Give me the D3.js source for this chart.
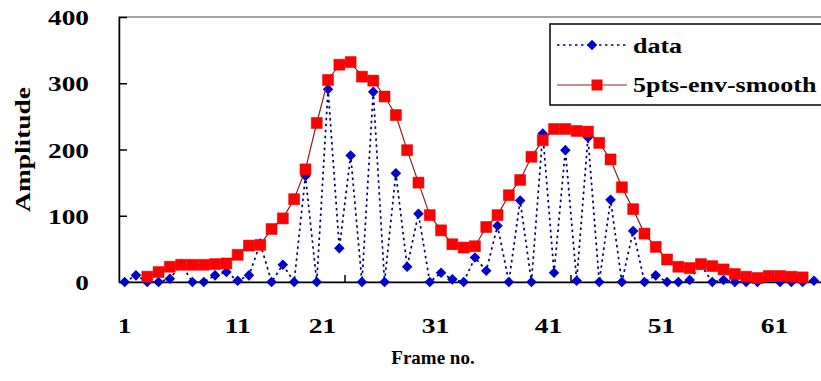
<!DOCTYPE html>
<html>
<head>
<meta charset="utf-8">
<script src="https://cdnjs.cloudflare.com/ajax/libs/d3/7.8.5/d3.min.js"></script>
<style>
  body { margin: 0; background: #fff; }
  text { font-family: "Liberation Serif", "Times New Roman", serif; font-weight: bold; fill: #000; }
</style>
</head>
<body>
<svg id="chart" width="821" height="381"></svg>
<script>
// frame numbers (categories)
var frames = d3.range(1, 64);

// raw amplitude per frame
var dataValues = [
  0, 10, 0, 0, 5, 27, 0, 0, 10, 15,
  2, 10, 58, 0, 26, 0, 160, 0, 291, 51,
  191, 0, 287, 0, 164, 23, 103, 0, 14, 4,
  0, 37, 17, 85, 0, 123, 0, 224, 14, 199,
  2, 218, 0, 124, 0, 77, 0, 10, 0, 0,
  3, 26, 0, 3, 0, 0, 0, 8, 0, 0,
  0, 2, 0
];

// 5 point envelope smooth (frames 3..61)
var smoothValues = [
  null, null, 8, 15, 23, 26, 26, 26, 27, 28,
  41, 55, 56, 80, 96, 125, 170, 240, 305, 328,
  332, 310, 304, 280, 252, 199, 150, 101, 78, 57,
  52, 54, 83, 101, 131, 154, 189, 214, 231, 231,
  228, 227, 210, 185, 143, 110, 73, 53, 34, 23,
  21, 27, 24, 19, 12, 8, 6, 9, 9, 8,
  7, null, null
];

var yTicks = [0, 100, 200, 300, 400];
var xTickLabels = [1, 11, 21, 31, 41, 51, 61];
var seriesNames = ["data", "5pts-env-smooth"];

var svg = d3.select("#chart");
svg.append("rect").attr("width", 821).attr("height", 381).attr("fill", "#fff");

var plotLeft = 119, plotTop = 17, plotBottom = 282, catW = 11.3;

var x = d3.scaleBand().domain(frames).range([plotLeft, plotLeft + frames.length * catW]).padding(0);
var cx = function (f) { return x(f) + x.bandwidth() / 2; };
var y = d3.scaleLinear().domain([0, 400]).range([plotBottom, plotTop]);

// widen text the way the original renderer did
function stretch(sel, k) {
  sel.each(function () {
    var w = this.getComputedTextLength();
    d3.select(this).attr("textLength", w * k).attr("lengthAdjust", "spacingAndGlyphs");
  });
}

// plot area border
svg.append("rect")
  .attr("x", plotLeft).attr("y", plotTop)
  .attr("width", frames.length * catW).attr("height", plotBottom - plotTop)
  .attr("fill", "none").attr("stroke", "#888").attr("stroke-width", 1.5);

/* y axis */
var yAxis = svg.append("g")
  .attr("transform", "translate(" + plotLeft + ",0)")
  .call(d3.axisLeft(y).tickValues(yTicks).tickSize(-8).tickPadding(30).tickSizeOuter(0));
yAxis.select(".domain").attr("stroke", "#000").attr("stroke-width", 1.5);
yAxis.selectAll(".tick line").attr("stroke", "#000").attr("stroke-width", 1.5);
yAxis.selectAll(".tick text")
  .attr("font-size", 21).attr("font-family", null).attr("dy", "0.36em");
stretch(yAxis.selectAll(".tick text"), 1.3);

/* x axis */
var xAxis = svg.append("g")
  .attr("transform", "translate(0," + plotBottom + ")")
  .call(d3.axisBottom(x).tickValues(xTickLabels).tickSize(0).tickPadding(35).tickSizeOuter(0));
xAxis.select(".domain").attr("stroke", "#000").attr("stroke-width", 1.5);
xAxis.selectAll(".tick text").attr("font-size", 22).attr("font-family", null);
// the original prints the labels from 21 on a little left of their frame
xAxis.selectAll(".tick text")
  .attr("dx", function (d) { return d > 11 ? -2.5 * x.bandwidth() : 0; });
stretch(xAxis.selectAll(".tick text"), 1.25);

// tick marks between categories every 20 frames
svg.append("g").selectAll("line")
  .data([21, 41, 61])
  .join("line")
  .attr("x1", function (f) { return x(f); }).attr("x2", function (f) { return x(f); })
  .attr("y1", plotBottom).attr("y2", plotBottom - 7)
  .attr("stroke", "#000").attr("stroke-width", 1.5);

// axis titles
var yTitle = svg.append("text")
  .attr("transform", "translate(30," + (plotTop + plotBottom) / 2 + ") rotate(-90)")
  .attr("text-anchor", "middle").attr("font-size", 20)
  .text("Amplitude");
stretch(yTitle, 1.37);

var xTitle = svg.append("text")
  .attr("x", 433).attr("y", 364)
  .attr("text-anchor", "middle").attr("font-size", 19)
  .text("Frame no.");

/* series */
var rows = frames.map(function (f, i) { return { f: f, v: dataValues[i], s: smoothValues[i] }; });

var dataLine = d3.line()
  .x(function (d) { return cx(d.f); })
  .y(function (d) { return y(d.v); });

svg.append("path")
  .datum(rows)
  .attr("d", dataLine)
  .attr("fill", "none").attr("stroke", "#000070")
  .attr("stroke-width", 1.7).attr("stroke-dasharray", "2.5,3.5");

var diamond = d3.symbol().type(d3.symbolSquare).size(56);
svg.append("g").selectAll("path")
  .data(rows)
  .join("path")
  .attr("d", diamond)
  .attr("transform", function (d) { return "translate(" + cx(d.f) + "," + y(d.v) + ") rotate(45)"; })
  .attr("fill", "#0000cc");

var smoothLine = d3.line()
  .defined(function (d) { return d.s != null; })
  .x(function (d) { return cx(d.f); })
  .y(function (d) { return y(d.s); });

svg.append("path")
  .datum(rows)
  .attr("d", smoothLine)
  .attr("fill", "none").attr("stroke", "#8b2020").attr("stroke-width", 1.2);

var square = d3.symbol().type(d3.symbolSquare).size(121);
svg.append("g").selectAll("path")
  .data(rows.filter(function (d) { return d.s != null; }))
  .join("path")
  .attr("d", square)
  .attr("transform", function (d) { return "translate(" + cx(d.f) + "," + y(d.s) + ")"; })
  .attr("fill", "#ff0000").attr("stroke", "#e00000").attr("stroke-width", 0.5);

/* legend */
var lg = svg.append("g");
lg.append("rect")
  .attr("x", 550).attr("y", 24).attr("width", 300).attr("height", 81)
  .attr("fill", "#fff").attr("stroke", "#000").attr("stroke-width", 1.5);

lg.append("line")
  .attr("x1", 557).attr("x2", 627).attr("y1", 45).attr("y2", 45)
  .attr("stroke", "#000070").attr("stroke-width", 1.7).attr("stroke-dasharray", "2.5,3.5");
lg.append("path").attr("d", diamond)
  .attr("transform", "translate(592,45) rotate(45)").attr("fill", "#0000cc");

lg.append("line")
  .attr("x1", 557).attr("x2", 627).attr("y1", 85).attr("y2", 85)
  .attr("stroke", "#8b2020").attr("stroke-width", 1.2);
lg.append("path").attr("d", square)
  .attr("transform", "translate(597,85)").attr("fill", "#ff0000");

var lgText = lg.selectAll("text.lbl")
  .data(seriesNames)
  .join("text")
  .attr("class", "lbl")
  .attr("x", 633)
  .attr("y", function (d, i) { return i === 0 ? 53 : 92; })
  .attr("font-size", 20)
  .text(function (d) { return d; });
stretch(lgText, 1.3);
</script>
</body>
</html>
